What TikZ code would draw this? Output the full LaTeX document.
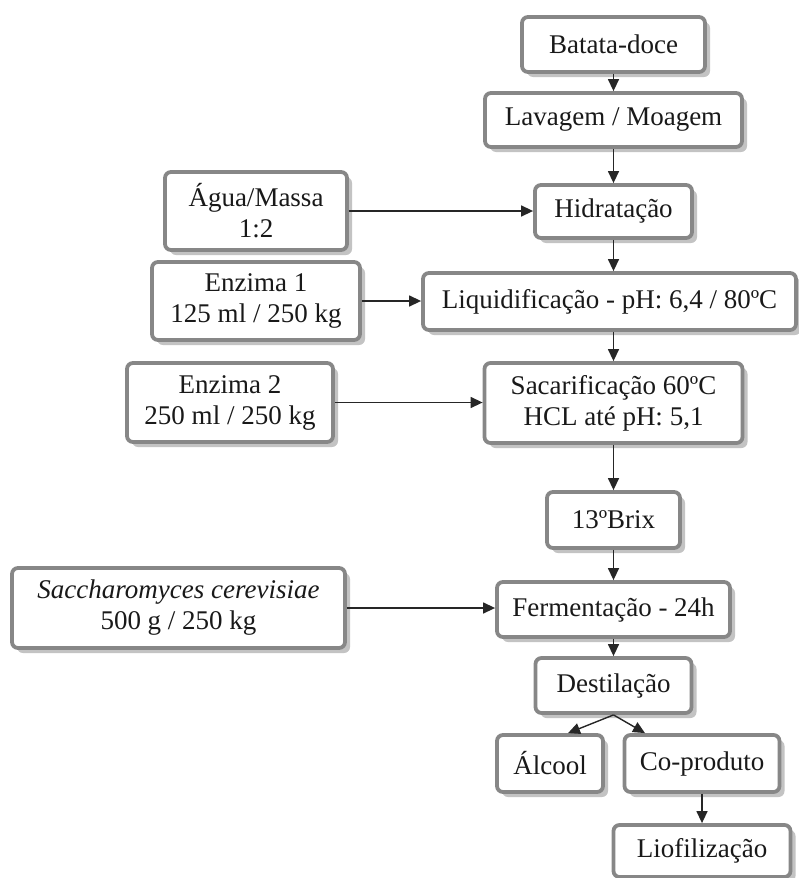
\documentclass[tikz,border=0pt]{standalone}
\usepackage{fontspec}
\setmainfont{Liberation Serif}
\usetikzlibrary{arrows.meta,shadows}
\definecolor{boxline}{RGB}{135,135,135}
\definecolor{boxshadow}{RGB}{195,195,195}
\definecolor{txt}{RGB}{25,25,25}
\begin{document}
\begin{tikzpicture}[x=1pt,y=-1pt,
  stepbox/.style={draw=boxline, line width=3.8pt, rounded corners=6pt, fill=white,
    align=center, text=txt, inner sep=0pt,
    font=\fontsize{27}{31}\selectfont,
    drop shadow={shadow xshift=5pt, shadow yshift=-5pt, fill=boxshadow, opacity=1}},
  flow/.style={draw=black!85, line width=1.4pt, -{Triangle[length=12pt,width=11pt]}}]
\useasboundingbox (0,0) rectangle (799,878);
\node[stepbox, minimum width=183pt, minimum height=55pt] (bat) at (613.5,44.5) {Batata-doce};
\node[stepbox, minimum width=257pt, minimum height=54pt] (lav) at (613.5,120) {Lavagem / Moagem};
\node[stepbox, minimum width=157pt, minimum height=53pt] (hid) at (613.5,211.5) {Hidratação};
\node[stepbox, minimum width=182pt, minimum height=78pt] (agua) at (256,211) {Água/Massa\\1:2};
\node[stepbox, minimum width=208pt, minimum height=78pt] (enz1) at (256,301) {Enzima 1\\125 ml / 250 kg};
\node[stepbox, minimum width=373pt, minimum height=57pt] (liq) at (609.5,301.5) {Liquidificação - pH: 6,4 / 80ºC};
\node[stepbox, minimum width=206pt, minimum height=79pt] (enz2) at (230,402.5) {Enzima 2\\250 ml / 250 kg};
\node[stepbox, minimum width=258pt, minimum height=80pt] (sac) at (613.5,403) {Sacarificação 60ºC\\HCL até pH: 5,1};
\node[stepbox, minimum width=133pt, minimum height=56pt] (brix) at (613.5,520) {13ºBrix};
\node[stepbox, minimum width=333pt, minimum height=80pt] (sacc) at (178.5,608) {\textit{Saccharomyces cerevisiae}\\500 g / 250 kg};
\node[stepbox, minimum width=233pt, minimum height=55pt] (fer) at (613.5,609.5) {Fermentação - 24h};
\node[stepbox, minimum width=156pt, minimum height=55pt] (des) at (613.5,685.5) {Destilação};
\node[stepbox, minimum width=106pt, minimum height=57pt] (alc) at (550,763.5) {Álcool};
\node[stepbox, minimum width=155pt, minimum height=57pt] (cop) at (702,763.5) {Co-produto};
\node[stepbox, minimum width=177pt, minimum height=52pt] (lio) at (702,851) {Liofilização};
\draw[flow] (bat.south) -- (lav.north);
\draw[flow] (lav.south) -- (hid.north);
\draw[flow] (hid.south) -- (hid.south |- liq.north);
\draw[flow] (liq.south -| sac.north) -- (sac.north);
\draw[flow] (sac.south) -- (brix.north);
\draw[flow] (brix.south) -- (fer.north);
\draw[flow] (fer.south) -- (des.north);
\draw[flow] (agua.east) -- (agua.east -| hid.west);
\draw[flow] (enz1.east) -- (enz1.east -| liq.west);
\draw[flow] (enz2.east) -- (enz2.east -| sac.west);
\draw[flow] (sacc.east) -- (sacc.east -| fer.west);
\draw[flow] (des.south) -- ([xshift=18pt]alc.north);
\draw[flow] (des.south) -- ([xshift=-57pt]cop.north);
\draw[flow] (cop.south) -- (lio.north);
\end{tikzpicture}
\end{document}
